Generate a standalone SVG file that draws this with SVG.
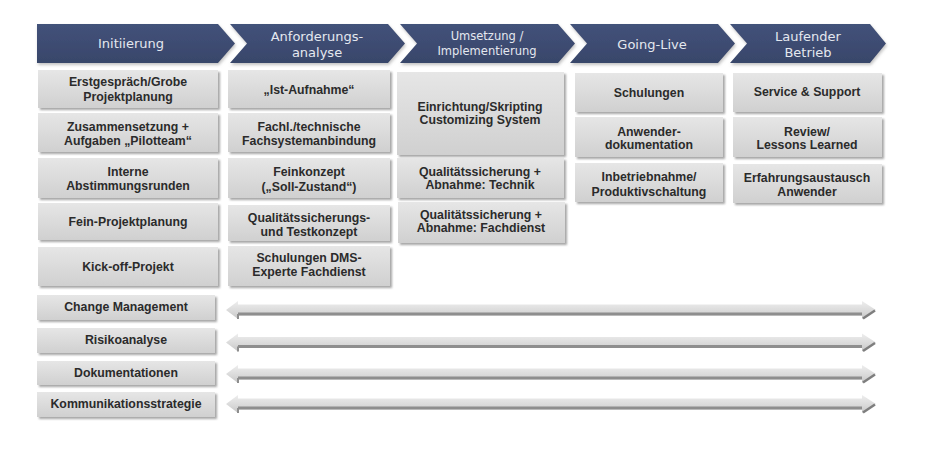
<svg xmlns="http://www.w3.org/2000/svg" width="929" height="453" viewBox="0 0 929 453">
<defs>
<linearGradient id="hg" x1="0" y1="0" x2="0" y2="1"><stop offset="0" stop-color="#43527a"/><stop offset="1" stop-color="#38466a"/></linearGradient>
<linearGradient id="bg" x1="0" y1="0" x2="0" y2="1"><stop offset="0" stop-color="#e6e6e6"/><stop offset="1" stop-color="#d0d0d0"/></linearGradient>
<linearGradient id="ag" x1="0" y1="0" x2="0" y2="1"><stop offset="0" stop-color="#eeeeee"/><stop offset="0.6" stop-color="#d8d8d8"/><stop offset="1" stop-color="#c6c6c6"/></linearGradient>
<filter id="sh" x="-5%" y="-20%" width="115%" height="150%"><feDropShadow dx="2" dy="2" stdDeviation="1.2" flood-color="#6a6a6a" flood-opacity="0.6"/></filter>
<filter id="hs" x="-5%" y="-20%" width="115%" height="150%"><feDropShadow dx="1" dy="2" stdDeviation="1.5" flood-color="#888" flood-opacity="0.5"/></filter>
<g id="arr">
<path d="M226,0 L238,-9 L238,-5.5 L862,-5.5 L862,-9 L876,0 L862,9 L862,5.5 L238,5.5 L238,9 Z" fill="url(#ag)"/>
<path d="M238,2.5 L862,2.5 L862,5.5 L238,5.5 Z" fill="#8e8e8e"/>
<path d="M863,8.5 L875,0.5" stroke="#7e7e7e" stroke-width="2.5" fill="none"/>
<path d="M238,4 L238,9" stroke="#8e8e8e" stroke-width="2" fill="none"/>
</g>
</defs>
<style>
.h{font-family:"DejaVu Sans",Verdana,sans-serif;font-size:13px;fill:#e4e8ef;text-anchor:middle}
.hs{font-size:11.5px}
.b{fill:url(#bg);filter:url(#sh)}
.t{font-family:"Liberation Sans",Arial,sans-serif;font-weight:bold;font-size:12.3px;fill:#2b2b2b;text-anchor:middle}
.c{fill:url(#hg);filter:url(#hs)}
</style>
<rect width="929" height="453" fill="#ffffff"/>

<g id="phase-initiierung"><path class="c" d="M37,24 L218,24 L235,43.5 L218,63 L37,63 Z"/><text class="h" x="131" y="48">Initiierung</text></g>
<g id="phase-anforderung"><path class="c" d="M230,24 L388,24 L405,43.5 L388,63 L230,63 L247,43.5 Z"/><text class="h" x="317" y="41">Anforderungs-</text><text class="h" x="317" y="57">analyse</text></g>
<g id="phase-umsetzung"><path class="c" d="M400,24 L558,24 L575,43.5 L558,63 L400,63 L417,43.5 Z"/><text class="h hs" x="487" y="40">Umsetzung /</text><text class="h hs" x="487" y="55">Implementierung</text></g>
<g id="phase-goinglive"><path class="c" d="M570,24 L718,24 L735,43.5 L718,63 L570,63 L587,43.5 Z"/><text class="h" x="652" y="49">Going-Live</text></g>
<g id="phase-betrieb"><path class="c" d="M730,24 L870,24 L886,43.5 L870,63 L730,63 L747,43.5 Z"/><text class="h" x="808" y="41">Laufender</text><text class="h" x="808" y="57">Betrieb</text></g>

<g id="n-erstgespraech"><rect class="b" x="38" y="70" width="180" height="38"/><text class="t" x="128" y="86">Erstgespräch/Grobe</text><text class="t" x="128" y="101">Projektplanung</text></g>
<g id="n-zusammensetzung"><rect class="b" x="38" y="113" width="180" height="39"/><text class="t" x="128" y="131">Zusammensetzung +</text><text class="t" x="128" y="145">Aufgaben „Pilotteam“</text></g>
<g id="n-interne"><rect class="b" x="38" y="158" width="180" height="40"/><text class="t" x="128" y="176">Interne</text><text class="t" x="128" y="190">Abstimmungsrunden</text></g>
<g id="n-feinprojekt"><rect class="b" x="38" y="203" width="180" height="37"/><text class="t" x="128" y="226">Fein-Projektplanung</text></g>
<g id="n-kickoff"><rect class="b" x="38" y="247" width="180" height="39"/><text class="t" x="128" y="271">Kick-off-Projekt</text></g>

<g id="n-istaufnahme"><rect class="b" x="228" y="70" width="162" height="38"/><text class="t" x="309" y="94">„Ist-Aufnahme“</text></g>
<g id="n-fachl"><rect class="b" x="228" y="113" width="162" height="39"/><text class="t" x="309" y="131">Fachl./technische</text><text class="t" x="309" y="145">Fachsystemanbindung</text></g>
<g id="n-feinkonzept"><rect class="b" x="228" y="158" width="162" height="40"/><text class="t" x="309" y="176">Feinkonzept</text><text class="t" x="309" y="191">(„Soll-Zustand“)</text></g>
<g id="n-qstest"><rect class="b" x="228" y="205" width="162" height="36"/><text class="t" x="309" y="222">Qualitätssicherungs-</text><text class="t" x="309" y="236">und Testkonzept</text></g>
<g id="n-schulungendms"><rect class="b" x="228" y="246" width="162" height="40"/><text class="t" x="309" y="262">Schulungen DMS-</text><text class="t" x="309" y="276">Experte Fachdienst</text></g>

<g id="n-einrichtung"><rect class="b" x="397" y="72" width="167" height="83"/><text class="t" x="480" y="111">Einrichtung/Skripting</text><text class="t" x="480" y="124">Customizing System</text></g>
<g id="n-qstechnik"><rect class="b" x="397" y="158" width="167" height="40"/><text class="t" x="480" y="176">Qualitätssicherung +</text><text class="t" x="480" y="189">Abnahme: Technik</text></g>
<g id="n-qsfachdienst"><rect class="b" x="398" y="202" width="167" height="41"/><text class="t" x="481" y="219">Qualitätssicherung +</text><text class="t" x="481" y="232">Abnahme: Fachdienst</text></g>

<g id="n-schulungen"><rect class="b" x="575" y="73" width="148" height="39"/><text class="t" x="649" y="97">Schulungen</text></g>
<g id="n-anwenderdoku"><rect class="b" x="575" y="117" width="148" height="40"/><text class="t" x="649" y="136">Anwender-</text><text class="t" x="649" y="149">dokumentation</text></g>
<g id="n-inbetriebnahme"><rect class="b" x="575" y="163" width="148" height="39"/><text class="t" x="649" y="181">Inbetriebnahme/</text><text class="t" x="649" y="196">Produktivschaltung</text></g>

<g id="n-service"><rect class="b" x="733" y="73" width="149" height="39"/><text class="t" x="807" y="96">Service &amp; Support</text></g>
<g id="n-review"><rect class="b" x="733" y="117" width="149" height="40"/><text class="t" x="807" y="136">Review/</text><text class="t" x="807" y="149">Lessons Learned</text></g>
<g id="n-erfahrung"><rect class="b" x="733" y="164" width="149" height="39"/><text class="t" x="807" y="182">Erfahrungsaustausch</text><text class="t" x="807" y="196">Anwender</text></g>

<g id="n-change"><rect class="b" x="37" y="295" width="178" height="25"/><text class="t" x="126" y="311">Change Management</text></g>
<g id="n-risiko"><rect class="b" x="37" y="328" width="178" height="25"/><text class="t" x="126" y="344">Risikoanalyse</text></g>
<g id="n-doku"><rect class="b" x="37" y="361" width="178" height="24"/><text class="t" x="126" y="377">Dokumentationen</text></g>
<g id="n-kommunikation"><rect class="b" x="37" y="392" width="178" height="25"/><text class="t" x="126" y="408">Kommunikationsstrategie</text></g>

<g id="connectors">
<use href="#arr" transform="translate(0,310)"/>
<use href="#arr" transform="translate(0,342.5)"/>
<use href="#arr" transform="translate(0,374)"/>
<use href="#arr" transform="translate(0,404)"/>
</g>
</svg>
